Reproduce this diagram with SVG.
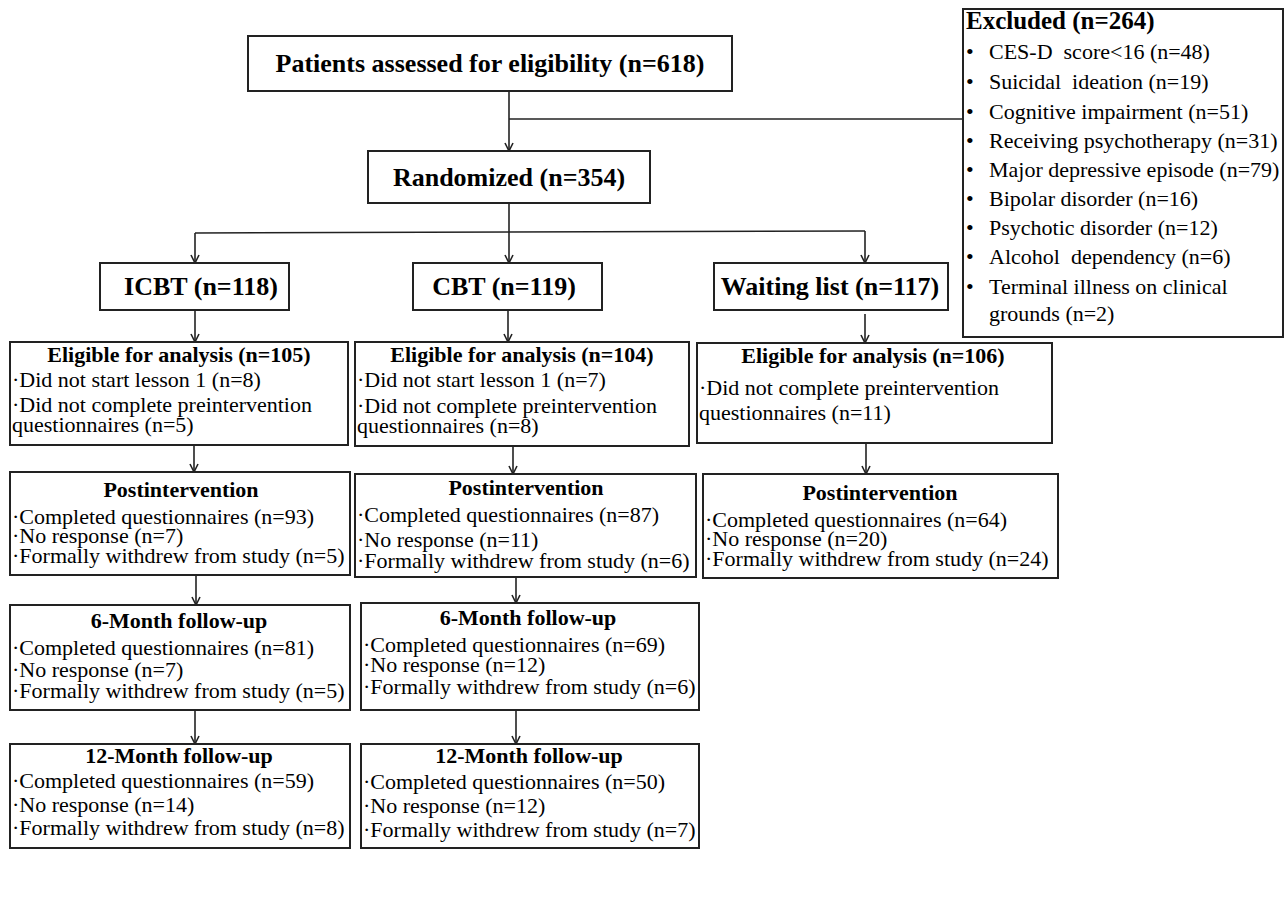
<svg xmlns="http://www.w3.org/2000/svg" width="1285" height="901" viewBox="0 0 1285 901">
<style>
.box{fill:#fff;stroke:#222;stroke-width:2}
.t{font-family:"Liberation Serif","Times New Roman",serif;fill:#000;font-size:22px}
.b{font-weight:bold}
.big{font-size:26px}
.c{text-anchor:middle}
.conn line,.conn polyline{stroke:#222;stroke-width:1.6;fill:none}
</style>
<defs>
<marker id="ah" markerWidth="10" markerHeight="10" refX="9" refY="5" orient="auto" markerUnits="userSpaceOnUse">
<path d="M1,1 L9,5 L1,9" fill="none" stroke="#222" stroke-width="1.6"/>
</marker>
</defs>
<rect width="1285" height="901" fill="#fff"/>
<g class="conn">
<line x1="509" y1="91" x2="509" y2="151" marker-end="url(#ah)"/>
<line x1="509" y1="119" x2="963" y2="119"/>
<line x1="509" y1="203" x2="509" y2="232"/>
<line x1="195" y1="233" x2="865" y2="231"/>
<line x1="195" y1="233" x2="195" y2="263" marker-end="url(#ah)"/>
<line x1="509" y1="232" x2="509" y2="263" marker-end="url(#ah)"/>
<line x1="865" y1="231" x2="865" y2="263" marker-end="url(#ah)"/>
<line x1="195" y1="310" x2="195" y2="342" marker-end="url(#ah)"/>
<line x1="508" y1="310" x2="508" y2="342" marker-end="url(#ah)"/>
<line x1="865" y1="314" x2="865" y2="343" marker-end="url(#ah)"/>
<line x1="194" y1="445" x2="194" y2="472" marker-end="url(#ah)"/>
<line x1="513" y1="446" x2="513" y2="474" marker-end="url(#ah)"/>
<line x1="866" y1="443" x2="866" y2="474" marker-end="url(#ah)"/>
<line x1="196" y1="575" x2="196" y2="605" marker-end="url(#ah)"/>
<line x1="516" y1="577" x2="516" y2="603" marker-end="url(#ah)"/>
<line x1="195" y1="710" x2="195" y2="744" marker-end="url(#ah)"/>
<line x1="516" y1="710" x2="516" y2="744" marker-end="url(#ah)"/>
</g>
<g id="assessed">
<rect class="box" x="248" y="36" width="484" height="55"/>
<text class="t b big c" x="490" y="72">Patients assessed for eligibility (n=618)</text>
</g>
<g id="randomized">
<rect class="box" x="368" y="151" width="282" height="52"/>
<text class="t b big c" x="509" y="186">Randomized (n=354)</text>
</g>
<g id="icbt">
<rect class="box" x="100" y="263" width="189" height="47"/>
<text class="t b big c" x="201" y="295">ICBT (n=118)</text>
</g>
<g id="cbt">
<rect class="box" x="413" y="263" width="189" height="47"/>
<text class="t b big c" x="504" y="295">CBT (n=119)</text>
</g>
<g id="waiting">
<rect class="box" x="714" y="263" width="234" height="47"/>
<text class="t b big c" x="830" y="295">Waiting list (n=117)</text>
</g>
<g id="excluded">
<rect class="box" x="963" y="9" width="320" height="328"/>
<text class="t b" style="font-size:25px" x="966" y="29">Excluded (n=264)</text>
<g class="t">
<text x="966" y="59">•</text><text x="989" y="59">CES-D&#160; score&lt;16 (n=48)</text>
<text x="966" y="89">•</text><text x="989" y="89">Suicidal&#160; ideation (n=19)</text>
<text x="966" y="119">•</text><text x="989" y="119">Cognitive impairment (n=51)</text>
<text x="966" y="148">•</text><text x="989" y="148">Receiving psychotherapy (n=31)</text>
<text x="966" y="177">•</text><text x="989" y="177">Major depressive episode (n=79)</text>
<text x="966" y="206">•</text><text x="989" y="206">Bipolar disorder (n=16)</text>
<text x="966" y="235">•</text><text x="989" y="235">Psychotic disorder (n=12)</text>
<text x="966" y="264">•</text><text x="989" y="264">Alcohol&#160; dependency (n=6)</text>
<text x="966" y="294">•</text><text x="989" y="294">Terminal illness on clinical</text>
<text x="989" y="321">grounds (n=2)</text>
</g>
</g>
<g id="elig-icbt">
<rect class="box" x="10" y="342" width="338" height="103"/>
<text class="t b c" x="179" y="362">Eligible for analysis (n=105)</text>
<text class="t" x="12" y="387">·Did not start lesson 1 (n=8)</text>
<text class="t" x="12" y="412">·Did not complete preintervention</text>
<text class="t" x="12" y="432">questionnaires (n=5)</text>
</g>
<g id="elig-cbt">
<rect class="box" x="355" y="342" width="334" height="104"/>
<text class="t b c" x="522" y="362">Eligible for analysis (n=104)</text>
<text class="t" x="357" y="387">·Did not start lesson 1 (n=7)</text>
<text class="t" x="357" y="413">·Did not complete preintervention</text>
<text class="t" x="357" y="433">questionnaires (n=8)</text>
</g>
<g id="elig-wait">
<rect class="box" x="697" y="343" width="355" height="100"/>
<text class="t b c" x="873" y="363">Eligible for analysis (n=106)</text>
<text class="t" x="699" y="395">·Did not complete preintervention</text>
<text class="t" x="699" y="420">questionnaires (n=11)</text>
</g>
<g id="post-icbt">
<rect class="box" x="10" y="472" width="340" height="103"/>
<text class="t b c" x="181" y="497">Postintervention</text>
<text class="t" x="12" y="524">·Completed questionnaires (n=93)</text>
<text class="t" x="12" y="543">·No response (n=7)</text>
<text class="t" x="12" y="563">·Formally withdrew from study (n=5)</text>
</g>
<g id="post-cbt">
<rect class="box" x="355" y="474" width="341" height="103"/>
<text class="t b c" x="526" y="495">Postintervention</text>
<text class="t" x="357" y="522">·Completed questionnaires (n=87)</text>
<text class="t" x="357" y="547">·No response (n=11)</text>
<text class="t" x="357" y="568">·Formally withdrew from study (n=6)</text>
</g>
<g id="post-wait">
<rect class="box" x="703" y="474" width="355" height="104"/>
<text class="t b c" x="880" y="500">Postintervention</text>
<text class="t" x="705" y="527">·Completed questionnaires (n=64)</text>
<text class="t" x="705" y="546">·No response (n=20)</text>
<text class="t" x="705" y="566">·Formally withdrew from study (n=24)</text>
</g>
<g id="m6-icbt">
<rect class="box" x="10" y="605" width="340" height="105"/>
<text class="t b c" x="179" y="628">6-Month follow-up</text>
<text class="t" x="12" y="655">·Completed questionnaires (n=81)</text>
<text class="t" x="12" y="677">·No response (n=7)</text>
<text class="t" x="12" y="698">·Formally withdrew from study (n=5)</text>
</g>
<g id="m6-cbt">
<rect class="box" x="361" y="603" width="338" height="107"/>
<text class="t b c" x="528" y="625">6-Month follow-up</text>
<text class="t" x="363" y="652">·Completed questionnaires (n=69)</text>
<text class="t" x="363" y="672">·No response (n=12)</text>
<text class="t" x="363" y="694">·Formally withdrew from study (n=6)</text>
</g>
<g id="m12-icbt">
<rect class="box" x="10" y="744" width="340" height="104"/>
<text class="t b c" x="179" y="763">12-Month follow-up</text>
<text class="t" x="12" y="788">·Completed questionnaires (n=59)</text>
<text class="t" x="12" y="812">·No response (n=14)</text>
<text class="t" x="12" y="835">·Formally withdrew from study (n=8)</text>
</g>
<g id="m12-cbt">
<rect class="box" x="361" y="744" width="338" height="104"/>
<text class="t b c" x="529" y="763">12-Month follow-up</text>
<text class="t" x="363" y="789">·Completed questionnaires (n=50)</text>
<text class="t" x="363" y="813">·No response (n=12)</text>
<text class="t" x="363" y="837">·Formally withdrew from study (n=7)</text>
</g>
</svg>
